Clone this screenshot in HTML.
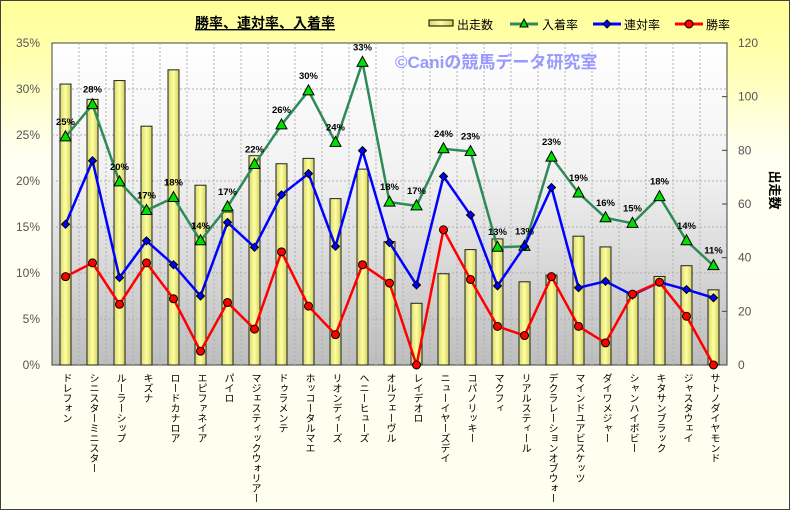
<!DOCTYPE html>
<html><head><meta charset="utf-8"><style>
body{margin:0;background:#fff}
svg{display:block;font-family:"Liberation Sans","Noto Sans CJK JP",sans-serif}
</style></head><body>
<svg width="790" height="510" viewBox="0 0 790 510" xmlns="http://www.w3.org/2000/svg">
<defs>
<linearGradient id="pg" x1="0" y1="0" x2="0" y2="1"><stop offset="0" stop-color="#ffffff"/><stop offset="0.4" stop-color="#f2f2f2"/><stop offset="1" stop-color="#bdbdbd"/></linearGradient>
<linearGradient id="bg" x1="0" y1="0" x2="1" y2="0"><stop offset="0" stop-color="#d8d870"/><stop offset="0.5" stop-color="#ffffa0"/><stop offset="1" stop-color="#d0d060"/></linearGradient>
<linearGradient id="og" x1="0" y1="0" x2="0" y2="1"><stop offset="0" stop-color="#ffff99"/><stop offset="0.12" stop-color="#ffffb0"/><stop offset="0.3" stop-color="#fffff2"/><stop offset="1" stop-color="#fffff0"/></linearGradient>
</defs>
<rect x="0.5" y="0.5" width="789" height="509" fill="url(#og)" stroke="#404040"/>
<rect x="52" y="43" width="675" height="322" fill="url(#pg)" stroke="#404040"/>
<g id="grid" stroke="#b0b0b0" stroke-dasharray="2,2" stroke-width="1"></g>
<text x="195" y="28" font-size="14" font-weight="bold" text-decoration="underline" fill="#000">勝率、連対率、入着率</text>
<text x="395" y="68" font-size="17" font-weight="bold" fill="#9999ff">©Caniの競馬データ研究室</text>
<g font-size="12" fill="#000">
<rect x="429" y="20" width="24" height="6" fill="url(#bg)" stroke="#000"/><text x="457" y="29">出走数</text>
<line x1="510" y1="24" x2="538" y2="24" stroke="#2e8b57" stroke-width="3"/><polygon points="524,19 528,27 520,27" fill="#00e000" stroke="#000"/><text x="542" y="29">入着率</text>
<line x1="593" y1="24" x2="621" y2="24" stroke="#0000ff" stroke-width="3"/><polygon points="607,20 611,24 607,28 603,24" fill="#0000ff" stroke="#000"/><text x="624" y="29">連対率</text>
<line x1="675" y1="24" x2="703" y2="24" stroke="#ff0000" stroke-width="3"/><circle cx="689" cy="24" r="4" fill="#ff0000" stroke="#000"/><text x="706" y="29">勝率</text>
</g>
<g id="ax" font-size="12" fill="#555"></g>
<text transform="translate(770,190) rotate(90)" font-size="13" font-weight="bold" text-anchor="middle">出走数</text>
<g id="bars"></g>
<g id="lines"></g>
<g id="names" font-size="10" fill="#000"></g>
</svg>
<script>
const N=["ドレフォン","シニスターミニスター","ルーラーシップ","キズナ","ロードカナロア","エピファネイア","パイロ","マジェスティックウォリアー","ドゥラメンテ","ホッコータルマエ","リオンディーズ","ヘニーヒューズ","オルフェーヴル","レイデオロ","ニューイヤーズデイ","コパノリッキー","マクフィ","リアルスティール","デクラレーションオブウォー","マインドユアビスケッツ","ダイワメジャー","シャンハイボビー","キタサンブラック","ジャスタウェイ","サトノダイヤモンド"];
const B=[104.7,99,106,89,110,67,57,78,75,77,62,73,46,23,34,43,47,31,33.5,48,44,26.5,33,37,28];
const G=[24.8,28.3,19.9,16.8,18.2,13.5,17.2,21.8,26.1,29.8,24.2,32.9,17.7,17.3,23.5,23.2,12.8,12.9,22.6,18.7,16.0,15.4,18.3,13.5,10.8];
const Bl=[15.3,22.2,9.5,13.5,10.9,7.5,15.5,12.8,18.5,20.8,12.9,23.3,13.3,8.7,20.5,16.3,8.6,12.9,19.3,8.4,9.1,7.6,9.0,8.2,7.3];
const R=[9.6,11.1,6.6,11.1,7.2,1.5,6.8,3.9,12.3,6.4,3.3,10.9,8.9,0,14.7,9.3,4.2,3.2,9.6,4.2,2.4,7.7,9.0,5.3,0];
const ns="http://www.w3.org/2000/svg";
function el(p,t,a,txt){const e=document.createElementNS(ns,t);for(const k in a)e.setAttribute(k,a[k]);if(txt!=null)e.textContent=txt;document.getElementById(p).appendChild(e);return e;}
const X0=52,W=27,Y0=365,PY=9.2,BY=322/120;
const cx=i=>X0+W*(i+.5);
for(let i=1;i<25;i++)el("grid","line",{x1:X0+W*i,y1:43,x2:X0+W*i,y2:365});
for(let k=1;k<7;k++)el("grid","line",{x1:52,y1:Y0-k*5*PY,x2:727,y2:Y0-k*5*PY});
for(let k=0;k<=7;k++)el("ax","text",{x:40,y:Y0-k*5*PY+4,"text-anchor":"end"},k*5+"%");
for(let k=0;k<=6;k++){el("ax","text",{x:738,y:Y0-k*20*BY+4},String(k*20));el("ax","line",{x1:722,x2:727,y1:Y0-k*20*BY,y2:Y0-k*20*BY,stroke:"#404040"});}
B.forEach((v,i)=>{const h=v*BY;el("bars","rect",{x:cx(i)-5.5,y:Y0-h,width:11,height:h,fill:"url(#bg)",stroke:"#202020"});});
function line(d,col,mk){el("lines","polyline",{points:d.map((v,i)=>cx(i)+","+(Y0-v*PY)).join(" "),fill:"none",stroke:col,"stroke-width":2.5});
d.forEach((v,i)=>{const x=cx(i),y=Y0-v*PY;
if(mk=="t")el("lines","polygon",{points:`${x},${y-6} ${x+5.5},${y+4} ${x-5.5},${y+4}`,fill:"#00e000",stroke:"#000"});
else if(mk=="d")el("lines","polygon",{points:`${x},${y-4} ${x+4},${y} ${x},${y+4} ${x-4},${y}`,fill:"#0000ff",stroke:"#000"});
else el("lines","circle",{cx:x,cy:y,r:4,fill:"#ff0000",stroke:"#000"});});}
line(G,"#2e8b57","t");line(Bl,"#0000ff","d");line(R,"#ff0000","c");
G.forEach((v,i)=>el("lines","text",{x:cx(i),y:Y0-v*PY-12,"text-anchor":"middle","font-size":"9.5","font-weight":"bold"},Math.round(v)+"%"));
N.forEach((n,i)=>el("names","text",{x:cx(i),y:373,"writing-mode":"vertical-rl","text-anchor":"start"},n));
</script>
</body></html>
